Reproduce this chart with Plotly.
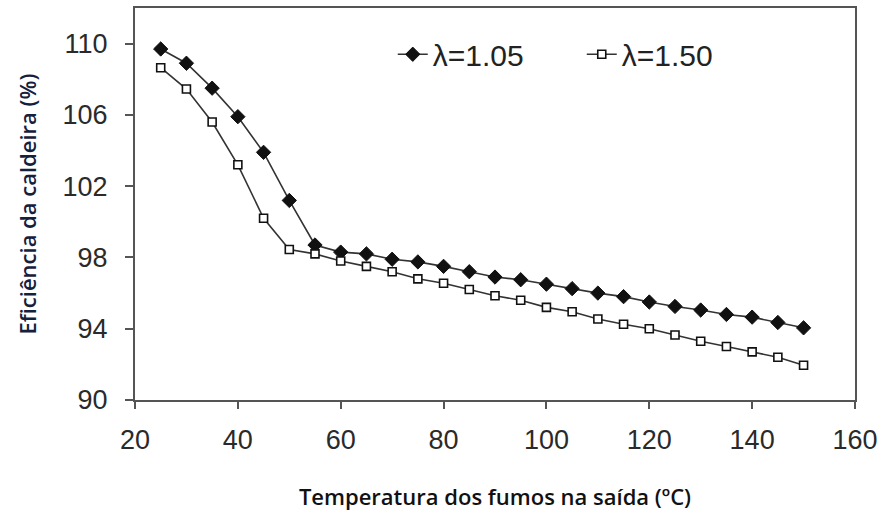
import plotly.graph_objects as go

temp = [25, 30, 35, 40, 45, 50, 55, 60, 65, 70, 75, 80, 85, 90, 95,
        100, 105, 110, 115, 120, 125, 130, 135, 140, 145, 150]
eff_105 = [109.7, 108.9, 107.5, 105.9, 103.9, 101.2, 98.7, 98.3, 98.2, 97.9,
           97.75, 97.5, 97.2, 96.9, 96.75, 96.5, 96.25, 96.0, 95.8, 95.5,
           95.25, 95.05, 94.8, 94.65, 94.35, 94.05]
eff_150 = [108.65, 107.45, 105.6, 103.2, 100.2, 98.45, 98.2, 97.8, 97.5, 97.2,
           96.8, 96.55, 96.2, 95.85, 95.6, 95.2, 94.95, 94.55, 94.25, 94.0,
           93.65, 93.3, 93.0, 92.7, 92.4, 91.95]
series_names = ["λ=1.05", "λ=1.50"]
x_ticks = [20, 40, 60, 80, 100, 120, 140, 160]
y_ticks = [90, 94, 98, 102, 106, 110]

LINE = "#333333"
fig = go.Figure()
fig.add_trace(go.Scatter(
    x=temp, y=eff_105, name=series_names[0], mode="lines+markers",
    line=dict(color=LINE, width=1.6),
    marker=dict(symbol="diamond", size=11, color="#111111",
                line=dict(color="#111111", width=1)),
))
fig.add_trace(go.Scatter(
    x=temp, y=eff_150, name=series_names[1], mode="lines+markers",
    line=dict(color=LINE, width=1.6),
    marker=dict(symbol="square", size=8, color="white",
                line=dict(color="#111111", width=1.6)),
))

tickfont = dict(family="Liberation Sans, Arial, sans-serif", size=27, color="#2a2a2a")
titlefont = dict(family="Open Sans, sans-serif", size=22, color="#111111", weight=600)

fig.update_layout(
    width=883, height=511,
    margin=dict(l=135, r=28, t=8, b=111),
    paper_bgcolor="white", plot_bgcolor="white",
    showlegend=True,
    legend=dict(orientation="h", x=0.358, y=0.882, xanchor="left", yanchor="middle",
                font=dict(family="Liberation Sans, Arial, sans-serif", size=30, color="#222222"),
                bgcolor="rgba(0,0,0,0)", entrywidth=144, entrywidthmode="pixels"),
    xaxis=dict(range=[20, 160], tickvals=x_ticks, showgrid=False, zeroline=False,
               showline=True, linecolor="#555555", linewidth=2, mirror=True,
               ticks="outside", ticklen=7, tickwidth=2, tickcolor="#555555",
               tickfont=tickfont, ticklabelstandoff=8, automargin=False,
               title=dict(text="Temperatura dos fumos na saída (ºC)", font=titlefont, standoff=37)),
    yaxis=dict(range=[90, 112], tickvals=y_ticks, showgrid=False, zeroline=False,
               showline=True, linecolor="#555555", linewidth=2, mirror=True,
               ticks="outside", ticklen=8, tickwidth=2, tickcolor="#555555",
               tickfont=tickfont, ticklabelstandoff=12, automargin=False,
               title=dict(text="Eficiência da caldeira (%)",
                          font=dict(family="Open Sans, sans-serif", size=22, color="#14213d", weight=600),
                          standoff=20)),
)

fig.write_html("out.html", config={"displayModeBar": False},
               post_script="document.body.style.margin='0';")
